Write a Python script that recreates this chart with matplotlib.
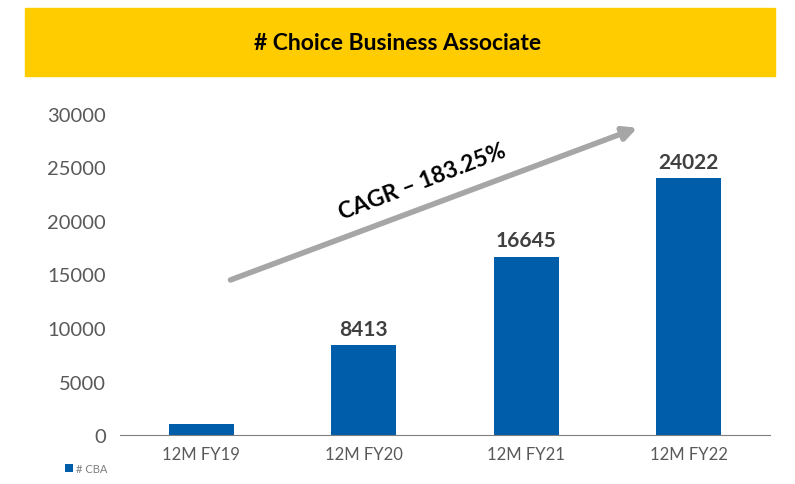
import matplotlib.pyplot as plt
from matplotlib.patches import Rectangle

categories = ["12M FY19", "12M FY20", "12M FY21", "12M FY22"]
cba = [1050, 8413, 16645, 24022]
shown_labels = ["", "8413", "16645", "24022"]
yticks = [0, 5000, 10000, 15000, 20000, 25000, 30000]

plt.rcParams['font.family'] = ['Lato', 'DejaVu Sans']

fig = plt.figure(figsize=(7.95, 4.85), dpi=100)

# yellow title banner
fig.patches.append(Rectangle((25/795, 1-77/485), 750/795, 68/485,
                             transform=fig.transFigure, color='#FFCC00', zorder=0))
fig.text(0.5, 1-44/485, "# Choice Business Associate", ha='center', va='center',
         fontsize=16.5, fontweight='bold', color='black')

ax = fig.add_axes([120/795, 1-436/485, 650/795, 321/485])
x = range(len(categories))
bars = ax.bar(x, cba, width=0.4, color='#005DAA', label='# CBA')
for b, lab in zip(bars, shown_labels):
    if lab:
        ax.text(b.get_x() + b.get_width()/2, b.get_height() + 600, lab,
                ha='center', va='bottom', fontsize=15, fontweight='bold', color='#404040')

ax.set_xlim(-0.5, 3.5)
ax.set_ylim(0, 30000)
ax.set_yticks(yticks)
ax.set_xticks(list(x))
ax.set_xticklabels(categories)
ax.tick_params(axis='both', length=0, colors='#595959')
ax.tick_params(axis='y', pad=10, labelsize=14.5)
ax.tick_params(axis='x', pad=8, labelsize=12)
for s in ['top', 'right', 'left']:
    ax.spines[s].set_visible(False)
ax.spines['bottom'].set_color('#7F7F7F')

# CAGR arrow
ax.annotate("", xy=(0.80, 0.96), xytext=(0.166, 0.48), xycoords='axes fraction',
            arrowprops=dict(arrowstyle='-|>,head_length=0.8,head_width=0.4',
                            color='#A6A6A6', lw=4))
ax.text(0.465, 0.79, "CAGR \u2013 183.25%", transform=ax.transAxes, rotation=21,
        ha='center', va='center', fontsize=16.5, fontweight='bold', color='black')

fig.legend(loc='lower left', bbox_to_anchor=(55/795, 0.0), frameon=False,
           fontsize=8, handlelength=0.7, handleheight=0.7, labelcolor='#7F7F7F',
           handletextpad=0.3)

fig.savefig('out.png', dpi=100)
